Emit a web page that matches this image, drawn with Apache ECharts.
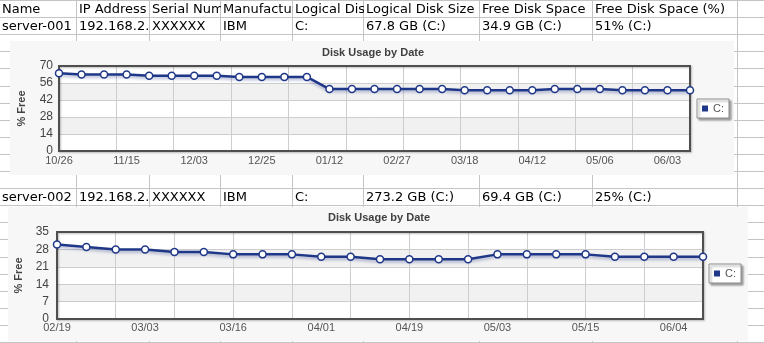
<!DOCTYPE html>
<html><head><meta charset="utf-8">
<script src="https://cdn.jsdelivr.net/npm/echarts@6/dist/echarts.min.js"></script>
<style>html,body{margin:0;padding:0;background:#fff;overflow:hidden}#c{width:764px;height:343px}</style>
</head><body><div id="c"></div>
<script>
// ---- table data ----
const headers = ['Name', 'IP Address', 'Serial Number', 'Manufacturer', 'Logical Disk', 'Logical Disk Size', 'Free Disk Space', 'Free Disk Space (%)'];
const server1 = ['server-001', '192.168.2.10', 'XXXXXX', 'IBM', 'C:', '67.8 GB (C:)', '34.9 GB (C:)', '51% (C:)'];
const server2 = ['server-002', '192.168.2.11', 'XXXXXX', 'IBM', 'C:', '273.2 GB (C:)', '69.4 GB (C:)', '25% (C:)'];

// ---- chart data ----
const chartTitle = 'Disk Usage by Date';
const yName = '% Free';
const seriesName = 'C:';
const dates1 = ['10/26','11/02','11/08','11/15','11/21','11/27','12/03','12/10','12/18','12/25','12/31','01/06','01/12','01/27','02/12','02/27','03/05','03/12','03/18','03/26','04/04','04/12','04/20','04/28','05/06','05/15','05/24','06/03','06/10'];
const values1 = [64,63,63,63,62,62,62,62,61,61,61,61,51,51,51,51,51,51,50,50,50,50,51,51,51,50,50,50,50];
const yTicks1 = [0,14,28,42,56,70];
const dates2 = ['02/19','02/23','02/27','03/03','03/07','03/12','03/16','03/21','03/26','04/01','04/07','04/13','04/19','04/24','04/29','05/03','05/07','05/11','05/15','05/22','05/29','06/04','06/10'];
const values2 = [30,29,28,28,27,27,26,26,26,25,25,24,24,24,24,26,26,26,26,25,25,25,25];
const yTicks2 = [0,7,14,21,28,35];

// ---- layout ----
const W = 764, H = 343;
const colX = [0, 76, 149, 220, 292, 363, 479, 592, 737, 764];
const rowH = 17.1;
const gridColor = '#c4c4c4';
const navy = '#1f3788';
const tableFont = 'DejaVu Sans';
const chartFont = 'Liberation Sans';

const graphics = [];
for (let k = 0; k <= 20; k++) {
  const y = Math.round(k * rowH) + 0.5;
  graphics.push({type:'line', z:-10, silent:true, shape:{x1:0, y1:y, x2:W, y2:y}, style:{stroke:gridColor, lineWidth:1}});
}
for (let i = 1; i < colX.length - 1; i++) {
  const x = colX[i] + 0.5;
  graphics.push({type:'line', z:-10, silent:true, shape:{x1:x, y1:0, x2:x, y2:H}, style:{stroke:gridColor, lineWidth:1}});
}
function addRow(cells, rowIdx) {
  const top = Math.round(rowIdx * rowH);
  const bot = Math.round((rowIdx + 1) * rowH);
  const yc = rowIdx * rowH + rowH / 2 + 1;
  for (let i = 0; i < colX.length - 1; i++) {
    // white cell background: clips the overflow of the cell to its left
    graphics.push({type:'rect', z:-8 + i * 0.02, silent:true,
      shape:{x:colX[i] + 1, y:top + 1, width:colX[i + 1] - colX[i] - 1, height:bot - top - 1}, style:{fill:'#fff'}});
    if (i < cells.length) {
      const x0 = i === 0 ? 2 : colX[i] + 3;
      graphics.push({type:'text', z:-8 + i * 0.02 + 0.01, silent:true, x:x0, y:yc,
        style:{text:cells[i], fill:'#000', fontFamily:tableFont, fontSize:13, verticalAlign:'middle', align:'left'}});
    }
  }
}
addRow(headers, 0);
addRow(server1, 1);
addRow(server2, 11);
// chart backgrounds
graphics.push({type:'rect', z:-9, silent:true, shape:{x:10, y:41, width:724, height:134}, style:{fill:'#f7f7f7'}});
graphics.push({type:'rect', z:-9, silent:true, shape:{x:8, y:207, width:740, height:134}, style:{fill:'#f7f7f7'}});
// titles
graphics.push({type:'text', z:5, silent:true, x:373, y:52.5, style:{text:chartTitle, fill:'#404040', fontFamily:chartFont, fontWeight:'bold', fontSize:11, align:'center', verticalAlign:'middle'}});
graphics.push({type:'text', z:5, silent:true, x:379, y:217.5, style:{text:chartTitle, fill:'#404040', fontFamily:chartFont, fontWeight:'bold', fontSize:11, align:'center', verticalAlign:'middle'}});

const gridStyle = {show:true, backgroundColor:'transparent', borderColor:'#4f4f4f', borderWidth:2, z:2,
  shadowColor:'rgba(0,0,0,0.25)', shadowBlur:2, shadowOffsetX:1, shadowOffsetY:1};

function catAxis(gi, data, margin) {
  return {type:'category', gridIndex:gi, data:data, boundaryGap:false,
    axisLine:{show:false}, axisTick:{show:false}, splitLine:{show:false},
    axisLabel:{interval:2, color:'#555', fontSize:11, fontFamily:chartFont, margin:margin}};
}
function vAxis(gi) {
  return {type:'value', gridIndex:gi, position:'top', min:0, max:11, interval:1,
    axisLine:{show:false}, axisTick:{show:false}, axisLabel:{show:false},
    splitLine:{show:true, lineStyle:{color:'#cdcdcd', width:1}}};
}
function yAxis(gi, ticks, margin) {
  return {type:'value', gridIndex:gi, min:ticks[0], max:ticks[ticks.length-1], interval:ticks[1]-ticks[0],
    name:yName, nameLocation:'middle', nameRotate:90, nameGap:32,
    nameTextStyle:{fontWeight:'bold', fontSize:11, color:'#444', fontFamily:chartFont},
    axisLine:{show:false}, axisTick:{show:false},
    axisLabel:{color:'#444', fontSize:12, fontFamily:chartFont, margin:margin},
    splitLine:{show:true, lineStyle:{color:'#cdcdcd', width:1}},
    splitArea:{show:true, areaStyle:{color:['#ffffff', '#f1f1f1']}}};
}
function lineSeries(xi, yi, data) {
  return {type:'line', name:seriesName, xAxisIndex:xi, yAxisIndex:yi, data:data, z:4,
    showAllSymbol:true, symbol:'circle', symbolSize:7,
    lineStyle:{color:navy, width:2.5, shadowColor:'rgba(30,50,130,0.35)', shadowBlur:3, shadowOffsetY:2},
    itemStyle:{color:'#fff', borderColor:navy, borderWidth:1.5},
    animation:false};
}
function legendBox(left, top) {
  return {data:[seriesName], left:left, top:top, orient:'vertical', icon:'rect', itemWidth:6, itemHeight:6,
    padding:[4,5,4,5], backgroundColor:'#fff', borderColor:'#8c8c8c', borderWidth:1,
    shadowColor:'rgba(0,0,0,0.35)', shadowBlur:2, shadowOffsetX:2, shadowOffsetY:2,
    selectedMode:false, textStyle:{color:'#555', fontSize:11, fontFamily:chartFont},
    itemStyle:{color:navy, borderWidth:0}};
}

const option = {
  animation:false,
  graphic:{elements:graphics},
  grid:[
    Object.assign({left:59, top:66, width:631, height:85}, gridStyle),
    Object.assign({left:57, top:232, width:646, height:87}, gridStyle)
  ],
  xAxis:[catAxis(0, dates1, 4), vAxis(0), catAxis(1, dates2, 3), vAxis(1)],
  yAxis:[yAxis(0, yTicks1, 6), yAxis(1, yTicks2, 8)],
  legend:[legendBox(697, 99), legendBox(709, 264)],
  series:[lineSeries(0, 0, values1), lineSeries(2, 1, values2)]
};
const chart = echarts.init(document.getElementById('c'), null, {renderer:'canvas'});
chart.setOption(option);
</script>
</body></html>
